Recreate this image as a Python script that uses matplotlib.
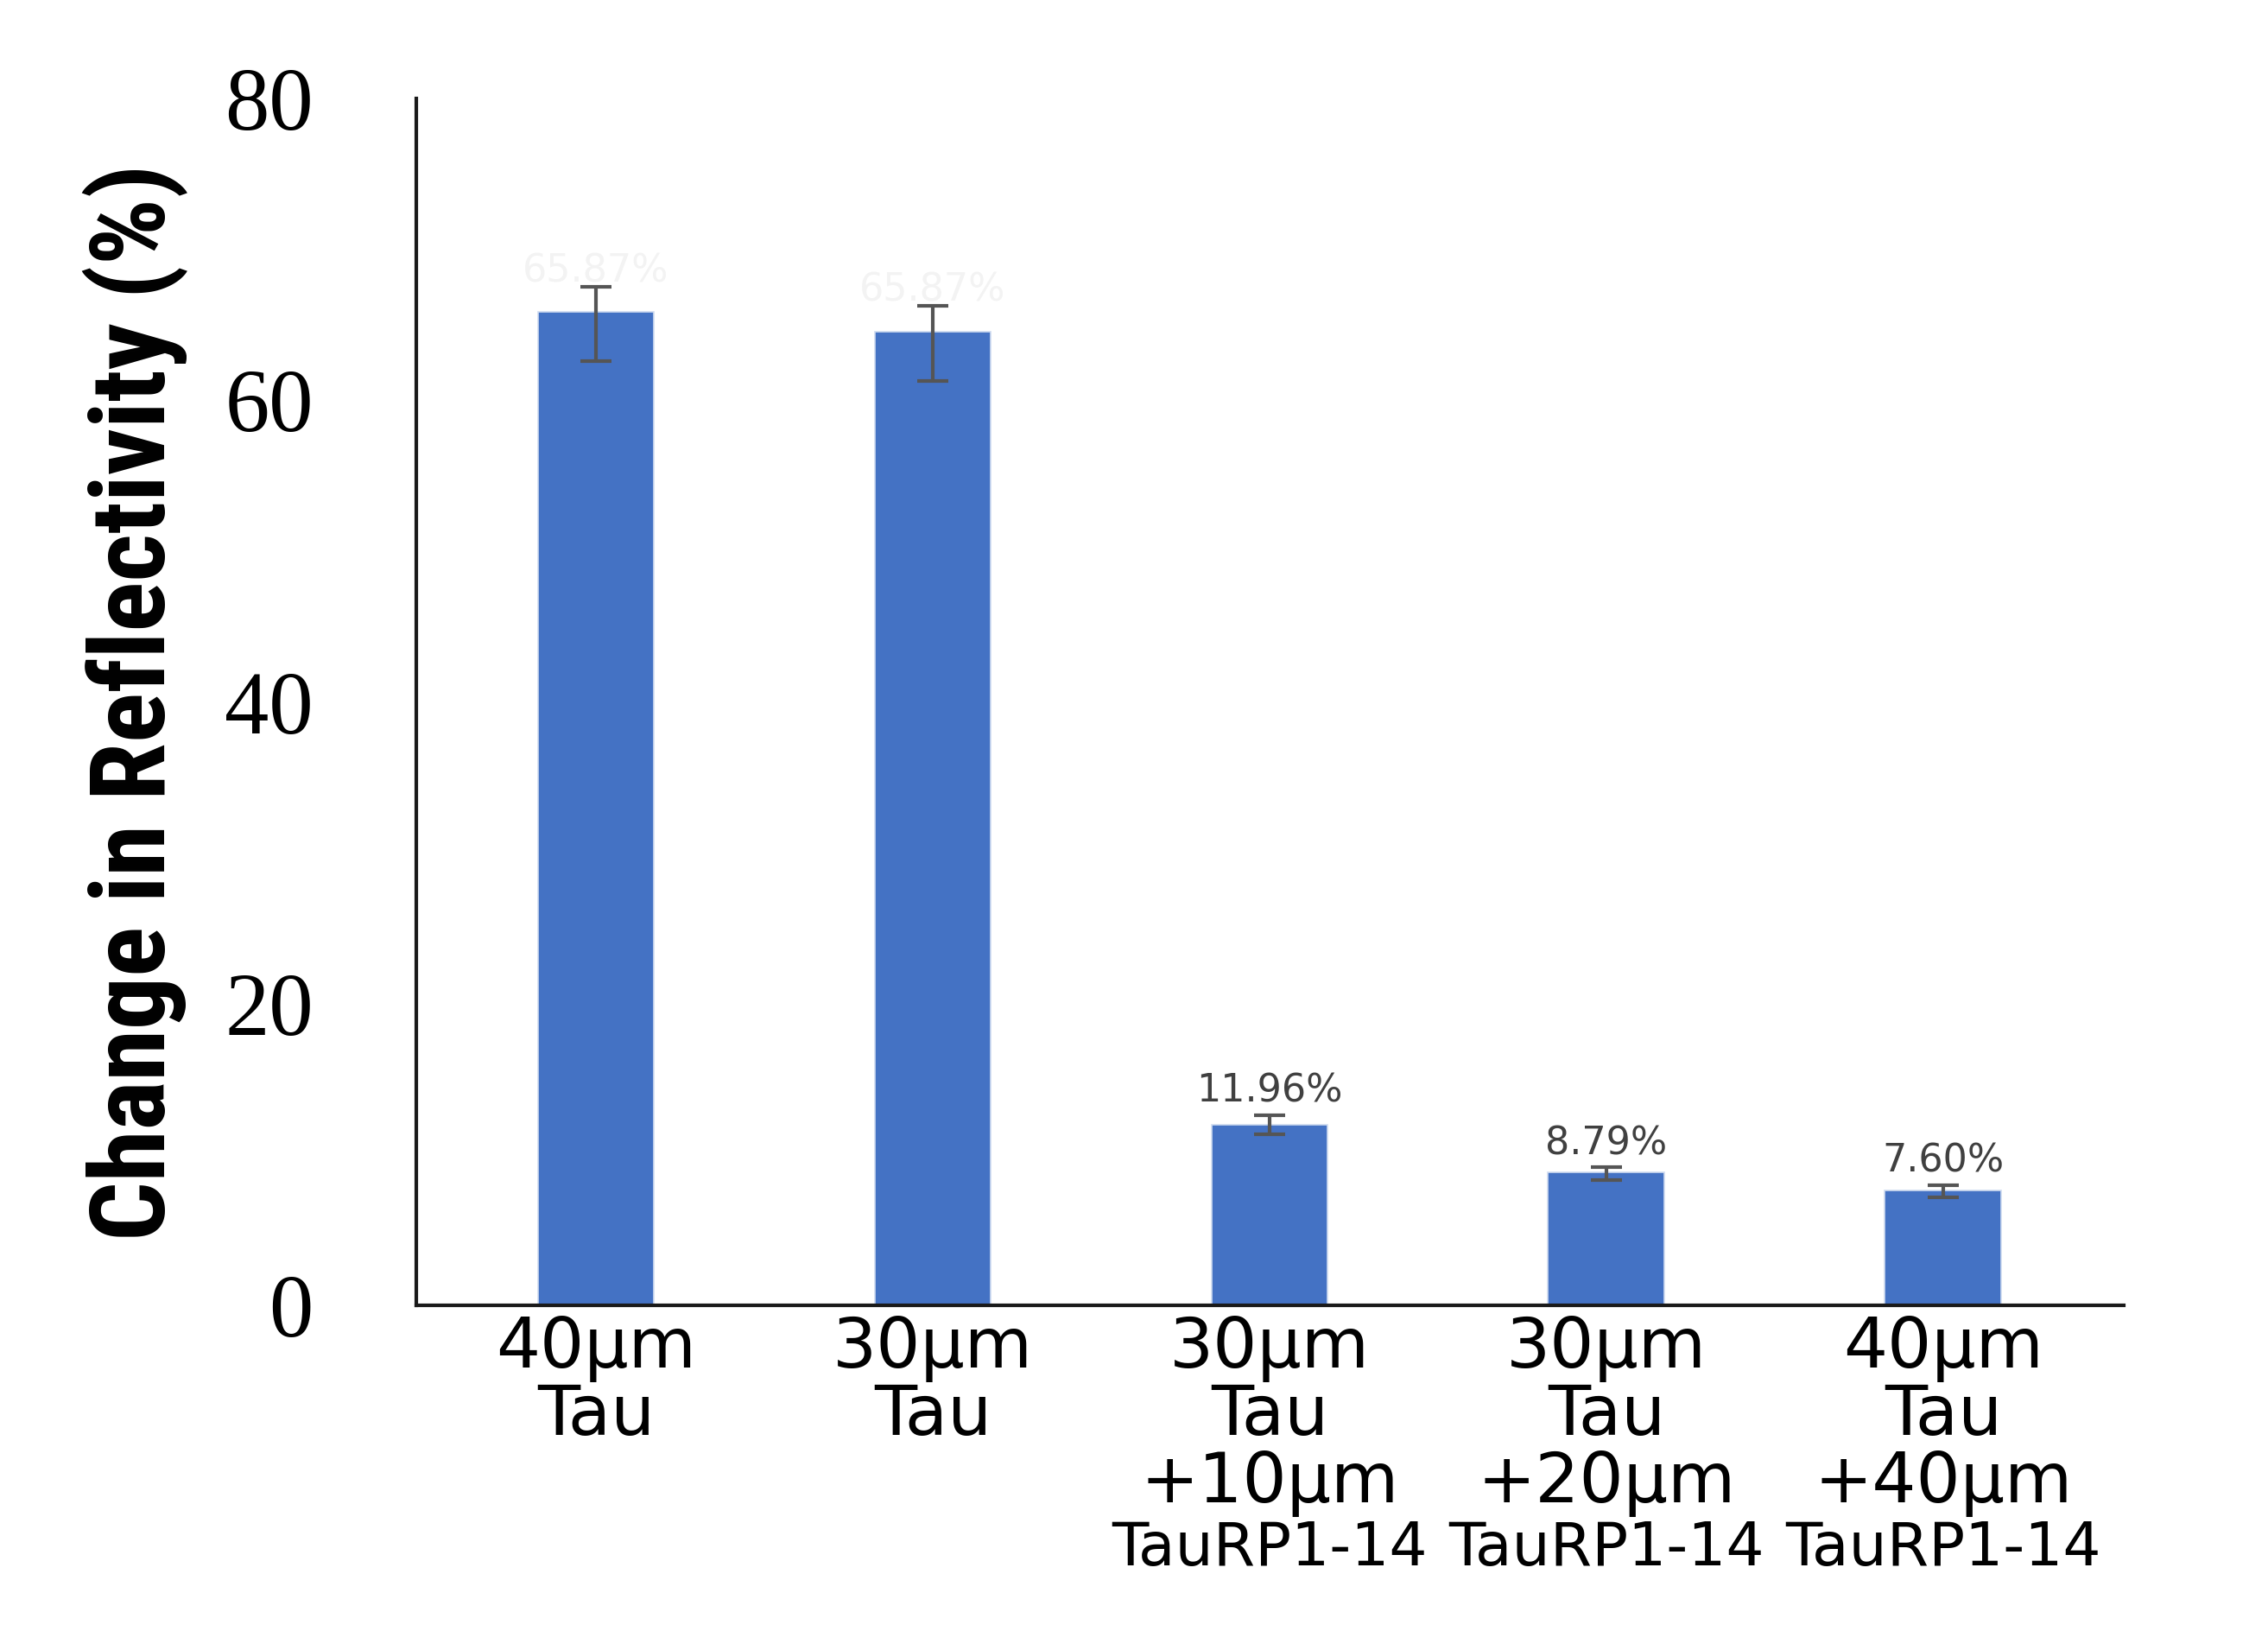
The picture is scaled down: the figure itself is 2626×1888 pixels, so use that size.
import numpy as np
import matplotlib
matplotlib.use("Agg")
import matplotlib.pyplot as plt
import matplotlib.transforms as mtransforms
from matplotlib import font_manager

# values
labels = ["40μm\nTau", "30μm\nTau", "30μm\nTau\n+10μm", "30μm\nTau\n+20μm", "40μm\nTau\n+40μm"]
sub_labels = ["", "", "TauRP1-14", "TauRP1-14", "TauRP1-14"]
values = [65.87, 64.55, 11.96, 8.79, 7.60]
err_low = [3.27, 3.27, 0.63, 0.50, 0.45]
err_high = [1.67, 1.72, 0.63, 0.35, 0.35]
value_text = ["65.87%", "65.87%", "11.96%", "8.79%", "7.60%"]
faint = [True, True, False, False, False]
y_ticks = [0, 20, 40, 60, 80]

x = np.arange(len(values))

# a narrow bold face suits the squeezed axis title, if one exists
installed = {f.name for f in font_manager.fontManager.ttflist}
narrow = [n for n in ["Liberation Sans Narrow", "Roboto Condensed",
                      "Open Sans Condensed", "Noto Sans Condensed"] if n in installed]
ylabel_font = narrow[0] if narrow else "DejaVu Sans"
condensed_dejavu = any(f.name == "DejaVu Sans" and f.stretch == "condensed"
                       for f in font_manager.fontManager.ttflist)

fig = plt.figure(figsize=(26.26, 18.88), dpi=100)
ax = fig.add_axes([0.1836, 0.1997, 0.7528, 0.7399])

ax.bar(x, values, width=0.346, color="#4472C4", edgecolor="#cfdbf0",
       linewidth=1.2, zorder=2)
ax.errorbar(x, values, yerr=[err_low, err_high], fmt="none", ecolor="#555555",
            elinewidth=3, capsize=13, capthick=3, zorder=3)

for xi, v, e, t, f in zip(x, values, err_high, value_text, faint):
    ax.annotate(t, (xi, v + e), xytext=(0, 4 if f else 11), textcoords="offset points",
                ha="center", va="baseline", fontsize=32,
                color="#f3f3f3" if f else "#404040")

ax.set_xlim(-0.533, 4.536)
ax.set_ylim(0, 80)
ax.set_yticks(y_ticks)
ax.tick_params(axis="y", length=0, pad=86, labelsize=74)
for lab in ax.get_yticklabels():
    lab.set_fontfamily("Liberation Serif")

ax.set_xticks(x, labels, fontsize=58, linespacing=1.0)
ax.tick_params(axis="x", length=0, pad=8)

trans = mtransforms.blended_transform_factory(ax.transData, ax.transAxes)
for xi, t in zip(x, sub_labels):
    ax.text(xi, -0.2155, t, transform=trans, ha="center", va="baseline", fontsize=50)

yl = ax.set_ylabel("Change in Reflectivity (%)", fontsize=60, fontweight="bold",
                   family=ylabel_font)
if ylabel_font == "DejaVu Sans" and condensed_dejavu:
    yl.set_fontstretch("condensed")
ax.yaxis.set_label_coords(-0.1335, 0.5)

for side in ["top", "right"]:
    ax.spines[side].set_visible(False)
for side in ["left", "bottom"]:
    ax.spines[side].set_linewidth(3)
    ax.spines[side].set_color("#1a1a1a")

# stretch the title to the length it has in the original (about 1247 px)
fig.canvas.draw()
h = yl.get_window_extent().height
yl.set_fontsize(60 * 1247 / h)

fig.savefig("out.png", dpi=100)
